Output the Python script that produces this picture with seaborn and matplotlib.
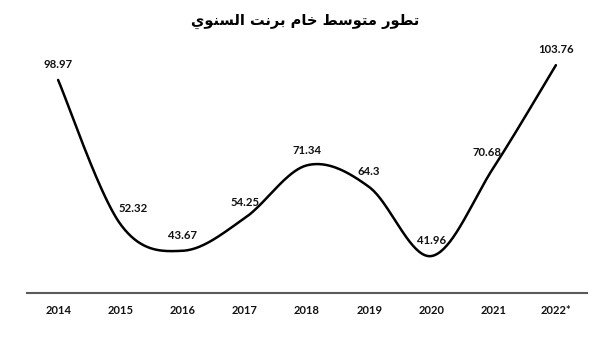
import numpy as np
import pandas as pd
import matplotlib
matplotlib.use("Agg")
import matplotlib.pyplot as plt
import seaborn as sns

# Annual average Brent crude price (USD / barrel)
years = ["2014", "2015", "2016", "2017", "2018", "2019", "2020", "2021", "2022*"]
prices = [98.97, 52.32, 43.67, 54.25, 71.34, 64.3, 41.96, 70.68, 103.76]
title_ar = "تطور متوسط خام برنت السنوي"

# Presentation forms: isolated, final, initial, medial
FORMS = {
    "ا": ("\uFE8D", "\uFE8E", None, None),
    "ب": ("\uFE8F", "\uFE90", "\uFE91", "\uFE92"),
    "ت": ("\uFE95", "\uFE96", "\uFE97", "\uFE98"),
    "خ": ("\uFEA5", "\uFEA6", "\uFEA7", "\uFEA8"),
    "ر": ("\uFEAD", "\uFEAE", None, None),
    "س": ("\uFEB1", "\uFEB2", "\uFEB3", "\uFEB4"),
    "ط": ("\uFEC1", "\uFEC2", "\uFEC3", "\uFEC4"),
    "ل": ("\uFEDD", "\uFEDE", "\uFEDF", "\uFEE0"),
    "م": ("\uFEE1", "\uFEE2", "\uFEE3", "\uFEE4"),
    "ن": ("\uFEE5", "\uFEE6", "\uFEE7", "\uFEE8"),
    "و": ("\uFEED", "\uFEEE", None, None),
    "ي": ("\uFEF1", "\uFEF2", "\uFEF3", "\uFEF4"),
}


def shape_arabic(text):
    out = []
    for i, ch in enumerate(text):
        if ch not in FORMS:
            out.append(ch)
            continue
        prev = text[i - 1] if i > 0 else ""
        nxt = text[i + 1] if i + 1 < len(text) else ""
        dual = FORMS[ch][2] is not None
        join_prev = prev in FORMS and FORMS[prev][2] is not None
        join_next = dual and nxt in FORMS
        iso, fin, ini, med = FORMS[ch]
        if join_prev and join_next:
            out.append(med)
        elif join_prev:
            out.append(fin)
        elif join_next:
            out.append(ini)
        else:
            out.append(iso)
    return "".join(out)[::-1]


def smooth_curve(xs, ys, steps=40):
    """Cubic Bezier through every point (Catmull-Rom style tangents)."""
    pts = np.column_stack([xs, ys]).astype(float)
    n = len(pts)
    cx, cy = [], []
    for i in range(n - 1):
        p0 = pts[max(i - 1, 0)]
        p1 = pts[i]
        p2 = pts[i + 1]
        p3 = pts[min(i + 2, n - 1)]
        c1 = p1 + (p2 - p0) / 6.0
        c2 = p2 - (p3 - p1) / 6.0
        t = np.linspace(0, 1, steps, endpoint=(i == n - 2))[:, None]
        seg = ((1 - t) ** 3) * p1 + 3 * ((1 - t) ** 2) * t * c1 + 3 * (1 - t) * t ** 2 * c2 + t ** 3 * p2
        cx.extend(seg[:, 0])
        cy.extend(seg[:, 1])
    return np.array(cx), np.array(cy)


sns.set_theme(style="white")
plt.rcParams["font.family"] = ["Lato", "DejaVu Sans"]

idx = np.arange(len(years))
sx, sy = smooth_curve(idx, prices)
curve = pd.DataFrame({"x": sx, "price": sy})

fig = plt.figure(figsize=(6.12, 3.37), dpi=100)
ax = fig.add_axes([27 / 612, 44 / 337, 560 / 612, 278 / 337])

sns.lineplot(data=curve, x="x", y="price", ax=ax, color="black", linewidth=1.8, sort=False)

ax.set_xlim(-0.5, len(years) - 0.5)
ax.set_ylim(30, 120)
ax.set_xticks(idx)
ax.set_xticklabels(years, fontsize=8, fontweight="bold", color="#111111")
ax.set_yticks([])
ax.set_xlabel("")
ax.set_ylabel("")
ax.tick_params(axis="x", length=0, pad=9)
for side in ("left", "right", "top"):
    ax.spines[side].set_visible(False)
ax.spines["bottom"].set_color("#5a5a5a")
ax.spines["bottom"].set_linewidth(1.5)

offsets = {1: (9, 11), 7: (-5, 11)}
for i, v in enumerate(prices):
    dx, dy = offsets.get(i, (0, 11))
    ax.annotate(f"{v:g}", (i, v), xytext=(dx, dy), textcoords="offset points",
                ha="center", va="center", fontsize=8.2, fontweight="bold", color="#111111")

fig.text(305 / 612, 1 - 21 / 337, shape_arabic(title_ar), ha="center", va="center",
         fontsize=10.5, fontweight="bold", family=["DejaVu Sans"], color="black")

fig.savefig("out.png", dpi=100)
